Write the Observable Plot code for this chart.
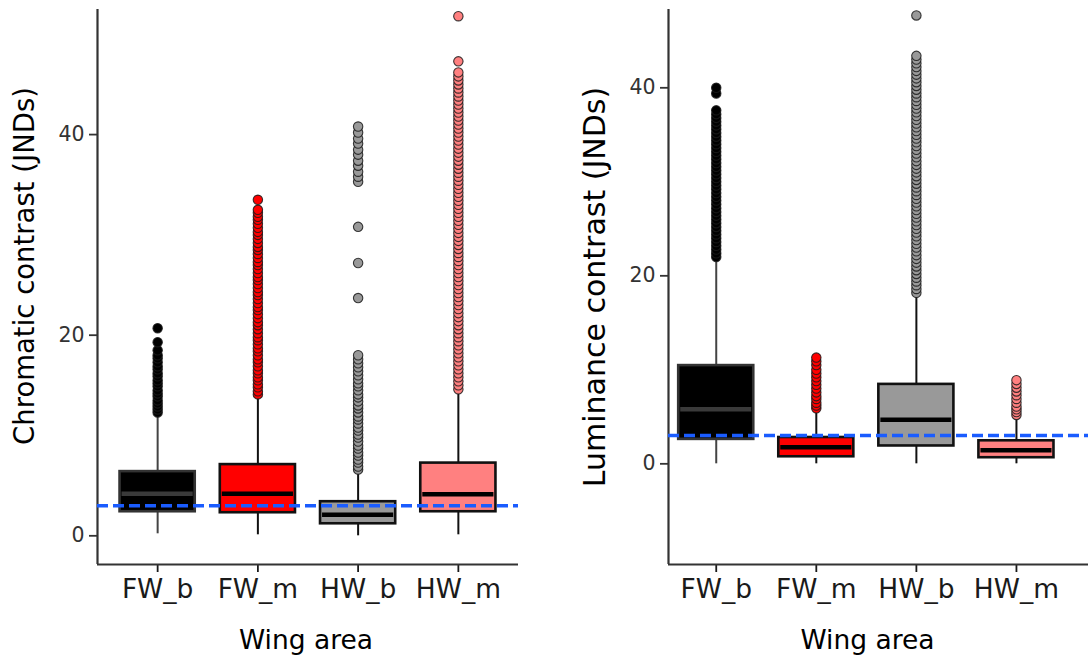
<!DOCTYPE html>
<html>
<head>
<meta charset="utf-8">
<script src="https://cdn.jsdelivr.net/npm/d3@7"></script>
<script src="https://cdn.jsdelivr.net/npm/@observablehq/plot@0.6"></script>
<style>
  html, body { margin: 0; padding: 0; background: #fff; }
  #wrap { position: relative; width: 1088px; height: 661px; overflow: hidden; }
  #wrap svg { position: absolute; top: 0; }
</style>
</head>
<body>
<div id="wrap"></div>
<script>
// ---- Data ----
const categories = ["FW_b", "FW_m", "HW_b", "HW_m"];
const fills = ["#000000", "#FF0000", "#999999", "#FF8080"];

// Chromatic contrast (left panel)
const chromLow  = [0.2, 0.1, 0.0, 0.1];
const chromQ1   = [2.4, 2.3, 1.2, 2.4];
const chromMed  = [4.2, 4.2, 2.1, 4.15];
const chromQ3   = [6.4, 7.1, 3.4, 7.25];
const chromHigh = [12.2, 14.0, 6.4, 14.4];
const chromOutFWb = [12.3,12.6,12.9,13.2,13.5,13.9,14.2,14.5,14.9,15.2,15.5,15.9,16.2,16.6,16.9,17.3,17.7,18.0,18.5,19.3,20.7];
const chromOutFWm = [14.1,14.4,14.8,15.1,15.5,15.8,16.2,16.5,16.9,17.3,17.6,18.0,18.4,18.7,19.1,19.5,19.8,20.2,20.6,21.0,21.3,21.7,22.1,22.5,22.8,23.2,23.6,24.0,24.3,24.7,25.1,25.5,25.8,26.2,26.6,27.0,27.3,27.7,28.1,28.5,28.8,29.2,29.6,30.0,30.3,30.7,31.1,31.5,31.8,32.2,32.5,33.5];
const chromOutHWb = [6.6,6.9,7.3,7.6,8.0,8.3,8.7,9.0,9.4,9.8,10.1,10.5,10.8,11.2,11.6,11.9,12.3,12.7,13.0,13.4,13.8,14.1,14.5,14.9,15.2,15.6,16.0,16.4,16.8,17.2,17.6,18.0,23.7,27.2,30.8,35.3,35.8,36.3,36.9,37.4,38.0,38.5,39.1,39.6,40.2,40.8];
const chromOutHWm = [14.6,15.0,15.4,15.8,16.2,16.6,17.0,17.4,17.8,18.2,18.6,19.0,19.4,19.8,20.2,20.6,21.0,21.4,21.8,22.2,22.6,23.0,23.4,23.8,24.2,24.6,25.0,25.4,25.8,26.2,26.6,27.0,27.4,27.8,28.2,28.6,29.0,29.4,29.8,30.2,30.6,31.0,31.4,31.8,32.2,32.6,33.0,33.4,33.8,34.2,34.6,35.0,35.4,35.8,36.2,36.6,37.0,37.4,37.8,38.2,38.6,39.0,39.4,39.8,40.2,40.6,41.0,41.4,41.8,42.2,42.6,43.0,43.4,43.8,44.2,44.6,45.0,45.4,45.8,46.2,47.3,51.8];

// Luminance contrast (right panel)
const lumLow  = [0.0, 0.0, 0.0, 0.0];
const lumQ1   = [2.6, 0.75, 1.9, 0.65];
const lumMed  = [5.8, 1.75, 4.7, 1.45];
const lumQ3   = [10.45, 2.8, 8.45, 2.45];
const lumHigh = [21.8, 5.7, 18.0, 5.0];
const lumOutFWb = [22.0,22.4,22.8,23.2,23.6,24.0,24.4,24.8,25.2,25.6,26.0,26.4,26.8,27.2,27.6,28.0,28.4,28.8,29.2,29.6,30.0,30.4,30.8,31.2,31.6,32.0,32.4,32.8,33.2,33.6,34.0,34.4,34.8,35.2,35.6,36.0,36.4,36.8,37.2,37.6,39.4,40.0];
const lumOutFWm = [5.9,6.2,6.5,6.9,7.2,7.6,8.0,8.4,8.8,9.2,9.6,10.0,10.5,10.9,11.3];
const lumOutHWb = [18.2,18.6,19.0,19.4,19.8,20.2,20.6,21.0,21.4,21.8,22.2,22.6,23.0,23.4,23.8,24.2,24.6,25.0,25.4,25.8,26.2,26.6,27.0,27.4,27.8,28.2,28.6,29.0,29.4,29.8,30.2,30.6,31.0,31.4,31.8,32.2,32.6,33.0,33.4,33.8,34.2,34.6,35.0,35.4,35.8,36.2,36.6,37.0,37.4,37.8,38.2,38.6,39.0,39.4,39.8,40.2,40.6,41.0,41.4,41.8,42.2,42.6,43.0,43.4,47.7];
const lumOutHWm = [5.2,5.5,5.8,6.1,6.5,6.9,7.3,7.7,8.1,8.5,8.9];

const yTicks = [0, 20, 40];
const threshold = 3;

// ---- build tables ----
function boxTable(low, q1, med, q3, high) {
  return categories.map((c, k) => ({i: k + 1, cat: c, low: low[k], q1: q1[k], med: med[k], q3: q3[k], high: high[k], fill: fills[k]}));
}
function outTable(lists) {
  const out = [];
  lists.forEach((arr, k) => arr.forEach(v => out.push({i: k + 1, v, fill: fills[k]})));
  return out;
}

const FONT = "DejaVu Sans, Verdana, sans-serif";
const HALF = 0.375;
const BLUE = "#1a5cff";

function panel(cfg) {
  const boxes = cfg.boxes, outs = cfg.outs;
  return Plot.plot({
    width: 544,
    height: 661,
    marginLeft: cfg.marginLeft,
    marginRight: cfg.marginRight,
    marginTop: 9,
    marginBottom: 97,
    style: {fontFamily: FONT, background: "#fff", overflow: "visible"},
    x: {type: "linear", domain: cfg.xDomain, axis: null},
    y: {domain: cfg.yDomain, axis: null},
    marks: [
      Plot.axisY({ticks: yTicks, tickSize: 8, tickPadding: 5, fontSize: 20.5, color: "#333", label: null, strokeWidth: 1.8}),
      Plot.axisX({ticks: [1, 2, 3, 4], tickFormat: d => categories[d - 1], tickSize: 8, tickPadding: 7, fontSize: 26.5, color: "#1a1a1a", label: null, strokeWidth: 1.8}),
      Plot.ruleX([cfg.xDomain[0]], {stroke: "#333", strokeWidth: 2.2}),
      Plot.ruleY([cfg.yDomain[0]], {stroke: "#333", strokeWidth: 2.2}),
      // whiskers
      Plot.ruleX(boxes, {x: "i", y1: "low", y2: "q1", stroke: d => d.i === 1 ? "#444" : "#111", strokeWidth: 2}),
      Plot.ruleX(boxes, {x: "i", y1: "q3", y2: "high", stroke: d => d.i === 1 ? "#444" : "#111", strokeWidth: 2}),
      // outliers
      Plot.dot(outs, {x: "i", y: "v", r: 4.7, fill: "fill", stroke: "#1a1a1a", strokeOpacity: 0.85, strokeWidth: 1.1}),
      // boxes
      Plot.rect(boxes, {x1: d => d.i - HALF, x2: d => d.i + HALF, y1: "q1", y2: "q3", fill: "fill", stroke: d => d.i === 1 ? "#333" : "#111", strokeWidth: 2.6}),
      Plot.ruleY(boxes, {y: "med", x1: d => d.i - HALF + 0.02, x2: d => d.i + HALF - 0.02, stroke: d => d.i === 1 ? "#3a3a3a" : "#000", strokeWidth: 4.5}),
      // threshold line
      Plot.ruleY([threshold], {stroke: BLUE, strokeWidth: 3.5, strokeDasharray: "11,5"}),
      // axis titles
      Plot.text([cfg.yTitle], {frameAnchor: "left", rotate: -90, dx: cfg.yTitleDx, dy: cfg.yTitleDy, fontSize: cfg.yTitleSize, fill: "#000", lineAnchor: "middle", textAnchor: "middle"}),
      Plot.text(["Wing area"], {frameAnchor: "bottom", dx: cfg.xTitleDx, dy: 76, fontSize: 26.5, fill: "#000", lineAnchor: "middle", textAnchor: "middle"})
    ]
  });
}

const left = panel({
  boxes: boxTable(chromLow, chromQ1, chromMed, chromQ3, chromHigh),
  outs: outTable([chromOutFWb, chromOutFWm, chromOutHWb, chromOutHWm]),
  marginLeft: 97, marginRight: 26,
  xDomain: [0.4, 4.6],
  yDomain: [-2.86, 52.47],
  yTitle: "Chromatic contrast (JNDs)", yTitleDx: -72, yTitleDy: -21, yTitleSize: 27.5,
  xTitleDx: -2
});
const right = panel({
  boxes: boxTable(lumLow, lumQ1, lumMed, lumQ3, lumHigh),
  outs: outTable([lumOutFWb, lumOutFWm, lumOutHWb, lumOutHWm]),
  marginLeft: 124, marginRight: 0,
  xDomain: [0.523, 4.72],
  yDomain: [-10.71, 48.33],
  yTitle: "Luminance contrast (JNDs)", yTitleDx: -73, yTitleDy: 0, yTitleSize: 30,
  xTitleDx: -11
});
left.style.left = "0px";
right.style.left = "544px";
const wrap = document.getElementById("wrap");
wrap.appendChild(left);
wrap.appendChild(right);
</script>
</body>
</html>
